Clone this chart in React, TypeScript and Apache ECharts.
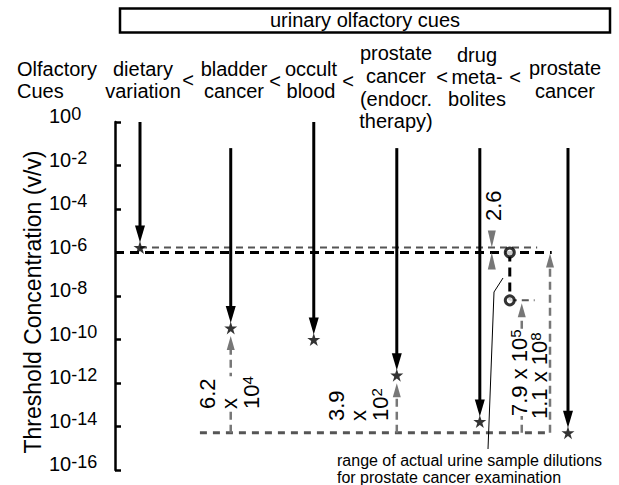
import React, { useEffect, useRef } from 'react';
import * as echarts from 'echarts';

// ---------------- data ----------------
const cueHeaders: string[][] = [
  ['dietary', 'variation'],
  ['bladder', 'cancer'],
  ['occult', 'blood'],
  ['prostate', 'cancer', '(endocr.', 'therapy)'],
  ['drug', 'meta-', 'bolites'],
  ['prostate', 'cancer'],
];
// where each downward arrow starts (v/v)
const arrowStart = [1, 0.063, 1, 0.063, 0.063, 0.063];
// detection thresholds (stars), v/v
const thresholds = [1.7e-6, 3.4e-10, 1e-10, 2.3e-12, 1.7e-14, 5.2e-15];
// black dashed reference level
const referenceLevel = 1e-6;
// range of actual urine sample dilutions (upper, lower)
const dilutionRange = [1.7e-6, 5.2e-15];
// drug metabolite open circles (upper, lower)
const drugLevels = [1e-6, 6.3e-9];
// ratio annotations
const ratioLabels = ['6.2\nx\n10{s|4}', '3.9\nx\n10{s|2}', '7.9 x 10{s|5}', '1.1 x 10{s|8}', '2.6'];
const yTickExponents = [0, -2, -4, -6, -8, -10, -12, -14, -16];

// ---------------- layout / style ----------------
const FONT = "'Liberation Sans', Arial, Helvetica, sans-serif";
const X_MIN = -0.292;
const X_MAX = 5.374;
const cuePos = [0, 1.06, 2.03, 3, 3.97, 5];
const headerLayout = [
  { x: 143, ys: [69, 91] },
  { x: 234, ys: [69, 91] },
  { x: 311, ys: [69, 91] },
  { x: 396, ys: [53, 76, 99, 121] },
  { x: 477, ys: [55, 77, 99] },
  { x: 565, ys: [68, 91] },
];
const lessThanPos = [[188, 80], [275, 81], [348, 81], [442, 77], [515, 77]];
const lg = (v: number) => Math.log10(v);

const guideStyles = [
  { stroke: '#000', lineWidth: 3, lineDash: [9, 6] },
  { stroke: '#555', lineWidth: 2, lineDash: [7, 5] },
  { stroke: '#555', lineWidth: 3, lineDash: [7, 6] },
];
const DRUG_X = 4.32;
// [x1, v1, x2, v2, styleIndex]
const guides = [
  [X_MIN, referenceLevel, 4.81, referenceLevel, 0],
  [0, dilutionRange[0], 4.64, dilutionRange[0], 1],
  [0.7, dilutionRange[1], 4.79, dilutionRange[1], 2],
  [DRUG_X, drugLevels[0], DRUG_X, drugLevels[1], 0],
  [DRUG_X, drugLevels[1], 4.61, drugLevels[1], 1],
];
// gray dilution arrows: [x, from, to, gapPx]
const dilutionArrows = [
  [cuePos[1], dilutionRange[1], thresholds[1], 8],
  [cuePos[3], dilutionRange[1], thresholds[3], 8],
  [4.46, dilutionRange[1], drugLevels[1], 3],
  [4.79, dilutionRange[1], referenceLevel, 1],
];
const GRAY_ARROW = '#777';

const supRich = (size: number, lh: number) => ({
  s: { fontSize: size, fontFamily: FONT, fill: '#000', color: '#000', lineHeight: lh, verticalAlign: 'top' },
});

function text(t: string, x: number, y: number, extra: any = {}, styleExtra: any = {}) {
  return {
    type: 'text',
    x,
    y,
    z: 10,
    ...extra,
    style: {
      text: t,
      fill: '#000',
      fontSize: 20,
      fontFamily: FONT,
      align: 'center',
      verticalAlign: 'middle',
      ...styleExtra,
    },
  };
}

function buildOption() {
  const graphic: any[] = [];
  graphic.push({
    type: 'rect',
    shape: { x: 120, y: 8.5, width: 490, height: 24 },
    style: { fill: 'none', stroke: '#000', lineWidth: 2.5 },
  });
  graphic.push(text('urinary olfactory cues', 365, 20));
  graphic.push(text('Olfactory', 17, 69, {}, { align: 'left' }));
  graphic.push(text('Cues', 17, 91, {}, { align: 'left' }));
  cueHeaders.forEach((lines, i) => {
    lines.forEach((ln, j) => graphic.push(text(ln, headerLayout[i].x, headerLayout[i].ys[j])));
  });
  lessThanPos.forEach(([x, y]) => graphic.push(text('<', x, y)));
  graphic.push(
    text('Threshold Concentration (v/v)', 33, 302, { rotation: Math.PI / 2 }, { fontSize: 23 })
  );
  const rot = { rotation: Math.PI / 2 };
  const ann = (extra: any = {}) => ({
    fontSize: 22,
    lineHeight: 22,
    align: 'left',
    rich: supRich(15, 12),
    ...extra,
  });
  graphic.push(text(ratioLabels[0], 229, 409, rot, ann({ backgroundColor: '#fff' })));
  graphic.push(text(ratioLabels[1], 358, 421, rot, ann()));
  graphic.push(text(ratioLabels[2], 519, 416, rot, ann({ backgroundColor: '#fff' })));
  graphic.push(text(ratioLabels[3], 539, 419, rot, ann()));
  graphic.push(text(ratioLabels[4], 493, 221, rot, ann()));
  graphic.push({
    type: 'polyline',
    z: 10,
    shape: { points: [[503, 278], [494, 292], [488, 449]] },
    style: { stroke: '#000', lineWidth: 1, fill: null },
  });
  graphic.push(text('range of actual urine sample dilutions', 337, 460, {}, { align: 'left', fontSize: 16 }));
  graphic.push(text('for prostate cancer examination', 337, 477, {}, { align: 'left', fontSize: 16 }));

  const STAR =
    'path://M50,0 L61.8,35.4 L99,35.4 L69,57.3 L80.3,92.7 L50,70.8 L19.7,92.7 L31,57.3 L1,35.4 L38.2,35.4 Z';

  return {
    animation: false,
    backgroundColor: '#fff',
    grid: { left: 115, right: 19, top: 122, bottom: 15, outerBoundsMode: 'none' },
    xAxis: { type: 'value', min: X_MIN, max: X_MAX, show: false },
    yAxis: {
      type: 'value',
      min: yTickExponents[yTickExponents.length - 1],
      max: yTickExponents[0],
      interval: 2,
      axisLine: { show: true, onZero: false, lineStyle: { color: '#000', width: 2.5 } },
      axisTick: { show: true, inside: true, length: 6, lineStyle: { color: '#000', width: 2.5 } },
      splitLine: { show: false },
      axisLabel: {
        align: 'left',
        margin: 66,
        padding: [0, 0, 12, 0],
        formatter: (v: number) => `{b|10}{s|${Math.round(v)}}`,
        rich: {
          b: { fontSize: 20, fontFamily: FONT, color: '#000', lineHeight: 22 },
          s: { fontSize: 18, fontFamily: FONT, color: '#000', lineHeight: 10, verticalAlign: 'top' },
        },
      },
    },
    graphic,
    series: [
      {
        type: 'custom',
        name: 'guides',
        z: 2,
        encode: { x: [0, 2], y: [1, 3] },
        data: guides.map((g) => [g[0], lg(g[1]), g[2], lg(g[3]), g[4]]),
        renderItem: (_p: any, api: any) => {
          const a = api.coord([api.value(0), api.value(1)]);
          const b = api.coord([api.value(2), api.value(3)]);
          const st = guideStyles[api.value(4) as number];
          return {
            type: 'line',
            shape: { x1: a[0], y1: a[1], x2: b[0], y2: b[1] },
            style: { ...st, fill: null },
          };
        },
      },
      {
        type: 'custom',
        name: 'dilution arrows',
        z: 3,
        encode: { x: 0, y: [1, 2] },
        data: dilutionArrows.map((d) => [d[0], lg(d[1]), lg(d[2]), d[3]]),
        renderItem: (_p: any, api: any) => {
          const x = api.value(0);
          const a = api.coord([x, api.value(1)]);
          const b = api.coord([x, api.value(2)]);
          const tip = b[1] + (api.value(3) as number);
          const hl = 14;
          const hw = 4;
          return {
            type: 'group',
            children: [
              {
                type: 'line',
                shape: { x1: a[0], y1: a[1], x2: a[0], y2: tip + hl - 2 },
                style: { stroke: GRAY_ARROW, lineWidth: 2.5, lineDash: [8, 5] },
              },
              {
                type: 'polygon',
                shape: { points: [[b[0] - hw, tip + hl], [b[0] + hw, tip + hl], [b[0], tip]] },
                style: { fill: GRAY_ARROW },
              },
            ],
          };
        },
      },
      {
        type: 'custom',
        name: 'ratio 2.6',
        z: 3,
        encode: { x: 0, y: [1, 2] },
        data: [[4.11, lg(dilutionRange[0]), lg(referenceLevel)]],
        renderItem: (_p: any, api: any) => {
          const x = api.value(0);
          const a = api.coord([x, api.value(1)]);
          const b = api.coord([x, api.value(2)]);
          const hl = 17;
          const hw = 4;
          return {
            type: 'group',
            children: [
              {
                type: 'polygon',
                shape: { points: [[a[0] - hw, a[1] - hl], [a[0] + hw, a[1] - hl], [a[0], a[1]]] },
                style: { fill: GRAY_ARROW },
              },
              {
                type: 'polygon',
                shape: { points: [[b[0] - hw, b[1] + hl], [b[0] + hw, b[1] + hl], [b[0], b[1]]] },
                style: { fill: GRAY_ARROW },
              },
            ],
          };
        },
      },
      {
        type: 'custom',
        name: 'cue arrows',
        z: 4,
        encode: { x: 0, y: [1, 2] },
        data: cuePos.map((x, i) => [x, lg(arrowStart[i]), lg(thresholds[i])]),
        renderItem: (_p: any, api: any) => {
          const x = api.value(0);
          const a = api.coord([x, api.value(1)]);
          const b = api.coord([x, api.value(2)]);
          const tip = b[1] - 5;
          const hl = 17;
          const hw = 5;
          return {
            type: 'group',
            children: [
              {
                type: 'line',
                shape: { x1: a[0], y1: a[1], x2: a[0], y2: tip - hl + 3 },
                style: { stroke: '#000', lineWidth: 3 },
              },
              {
                type: 'polygon',
                shape: { points: [[b[0] - hw, tip - hl], [b[0] + hw, tip - hl], [b[0], tip]] },
                style: { fill: '#000' },
              },
            ],
          };
        },
      },
      {
        type: 'scatter',
        name: 'thresholds',
        z: 5,
        symbol: STAR,
        symbolSize: 13,
        itemStyle: { color: '#000' },
        data: cuePos.map((x, i) => [x, lg(thresholds[i])]),
      },
      {
        type: 'scatter',
        name: 'drug metabolites',
        z: 6,
        symbol: 'circle',
        symbolSize: 9,
        itemStyle: { color: '#fff', borderColor: '#000', borderWidth: 3 },
        data: drugLevels.map((v) => [DRUG_X, lg(v)]),
      },
    ],
  };
}

export default function App() {
  const ref = useRef<HTMLDivElement>(null);
  useEffect(() => {
    if (!ref.current) return;
    const chart = echarts.init(ref.current, undefined, { renderer: 'svg' });
    chart.setOption(buildOption() as any);
    return () => chart.dispose();
  }, []);
  return (
    <div
      ref={ref}
      style={{ position: 'fixed', left: 0, top: 0, width: 619, height: 485, background: '#fff' }}
    />
  );
}
